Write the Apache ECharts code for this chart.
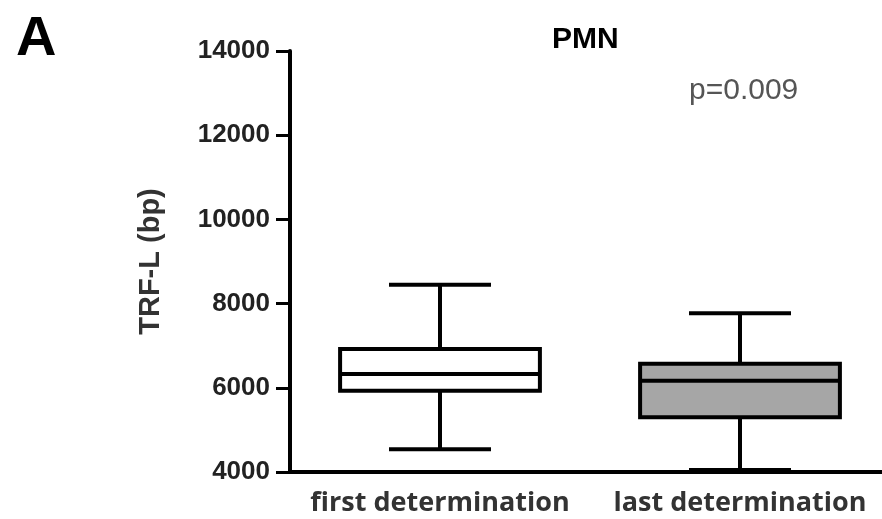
<!DOCTYPE html>
<html>
<head>
<meta charset="utf-8">
<script src="https://cdn.jsdelivr.net/npm/echarts@6/dist/echarts.min.js"></script>
<style>
  html, body { margin: 0; padding: 0; background: #fff; overflow: hidden; }
  #chartsbox { width: 890px; height: 519px; }
</style>
</head>
<body>
<div id="chartsbox"></div>
<script type="text/javascript">
    // 数据
    var categories = ['first determination', 'last determination'];
    var minVals = [4540, 4050];
    var q1Vals = [5930, 5300];
    var medianVals = [6330, 6170];
    var q3Vals = [6920, 6570];
    var maxVals = [8450, 7770];
    var boxFills = ['#ffffff', '#a6a6a6'];
    var yTicks = [4000, 6000, 8000, 10000, 12000, 14000];

    var seriesData = [];
    for (var i = 0; i < categories.length; i++) {
        seriesData.push([i, minVals[i], q1Vals[i], medianVals[i], q3Vals[i], maxVals[i]]);
    }

    // 箱线图绘制
    function renderBox(params, api) {
        var idx = api.value(0);
        var bandW = api.size([1, 0])[0];
        var half = bandW * 0.333;
        var capHalf = bandW * 0.17;
        var pMin = api.coord([idx, api.value(1)]);
        var pQ1 = api.coord([idx, api.value(2)]);
        var pMed = api.coord([idx, api.value(3)]);
        var pQ3 = api.coord([idx, api.value(4)]);
        var pMax = api.coord([idx, api.value(5)]);
        var x = pMed[0];
        var ls = { stroke: '#000', lineWidth: 4 };
        return {
            type: 'group',
            children: [
                { type: 'line', shape: { x1: x, y1: pMax[1], x2: x, y2: pQ3[1] }, style: ls },
                { type: 'line', shape: { x1: x, y1: pQ1[1], x2: x, y2: pMin[1] }, style: ls },
                { type: 'line', shape: { x1: x - capHalf, y1: pMax[1], x2: x + capHalf, y2: pMax[1] }, style: ls },
                { type: 'line', shape: { x1: x - capHalf, y1: pMin[1], x2: x + capHalf, y2: pMin[1] }, style: ls },
                { type: 'rect', shape: { x: x - half, y: pQ3[1], width: half * 2, height: pQ1[1] - pQ3[1] },
                  style: { fill: boxFills[idx], stroke: '#000', lineWidth: 4 } },
                { type: 'line', shape: { x1: x - half, y1: pMed[1], x2: x + half, y2: pMed[1] }, style: ls }
            ]
        };
    }

    var myChart = echarts.init(document.getElementById('chartsbox'));
    var option = {
        animation: false,
        backgroundColor: '#fff',
        grid: { left: 290, right: 0, top: 51, bottom: 47 },
        graphic: [
            { type: 'text', left: 16, top: 12,
              style: { text: 'A', font: 'bold 56px "Liberation Sans"', fill: '#000' } },
            { type: 'text', left: 552, top: 25,
              style: { text: 'PMN', font: 'bold 30px "Liberation Sans"', fill: '#000' } },
            { type: 'text', left: 689, top: 76,
              style: { text: 'p=0.009', font: '30px "Liberation Sans"', fill: '#555' } }
        ],
        xAxis: {
            type: 'category',
            data: categories,
            boundaryGap: true,
            axisLine: { lineStyle: { color: '#000', width: 4 } },
            axisTick: { alignWithLabel: true, length: 10, lineStyle: { color: '#000', width: 3 } },
            axisLabel: { interval: 0, color: '#333', fontSize: 27, fontWeight: 'bold', fontFamily: 'Open Sans', margin: 18 },
            splitLine: { show: false }
        },
        yAxis: {
            type: 'value',
            min: yTicks[0],
            max: yTicks[yTicks.length - 1],
            interval: 2000,
            name: 'TRF-L (bp)',
            nameLocation: 'middle',
            nameGap: 125,
            nameTextStyle: { color: '#333', fontSize: 29, fontWeight: 'bold', fontFamily: 'Liberation Sans' },
            axisLine: { show: true, lineStyle: { color: '#000', width: 4 } },
            axisTick: { show: true, length: 14, lineStyle: { color: '#000', width: 3 } },
            axisLabel: {
                color: '#222', fontSize: 26, fontWeight: 'bold', fontFamily: 'Liberation Sans', margin: 20,
                formatter: function (v) { return String(v); }
            },
            splitLine: { show: false }
        },
        series: [
            {
                name: 'TRF-L',
                type: 'custom',
                renderItem: renderBox,
                encode: { x: 0, y: [1, 2, 3, 4, 5] },
                data: seriesData
            }
        ]
    };
    myChart.setOption(option);
</script>
</body>
</html>
